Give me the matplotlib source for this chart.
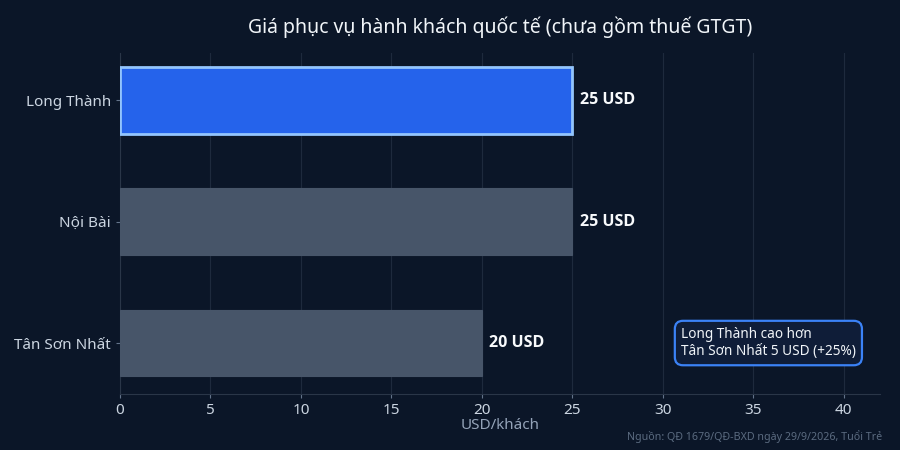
import matplotlib
matplotlib.use("Agg")
import matplotlib.pyplot as plt

categories = ["Long Thành", "Nội Bài", "Tân Sơn Nhất"]
values = [25, 25, 20]
value_labels = ["25 USD", "25 USD", "20 USD"]
xticks = [0, 5, 10, 15, 20, 25, 30, 35, 40]

plt.rcParams['font.family'] = ['Noto Sans', 'DejaVu Sans']

BG = "#0b1628"
fig = plt.figure(figsize=(9, 4.5), dpi=100, facecolor=BG)
ax = fig.add_axes([120/900, 56/450, 760/900, 341/450])
ax.set_facecolor(BG)

colors = ["#2563eb", "#475569", "#475569"]
edges = ["#93c5fd", "#475569", "#475569"]
lws = [2, 0.8, 0.8]
ypos = list(range(len(categories)))
for y, v, c, e, lw in zip(ypos, values, colors, edges, lws):
    ax.barh(y, v, height=0.55, color=c, edgecolor=e, linewidth=lw, zorder=3)

for y, v, lab in zip(ypos, values, value_labels):
    ax.text(v + 0.4, y, lab, va="center", ha="left", color="#f8fafc",
            fontsize=11.5, fontweight="bold", family=["Open Sans", "DejaVu Sans"],
            zorder=4)

ax.set_yticks(ypos)
ax.set_yticklabels(categories)
ax.set_ylim(2.42, -0.39)
ax.set_xlim(0, 42)
ax.set_xticks(xticks)

ax.grid(axis="x", color="#1e2a3d", linewidth=0.8, zorder=0)
for s in ["top", "right"]:
    ax.spines[s].set_visible(False)
for s in ["left", "bottom"]:
    ax.spines[s].set_color("#2a3648")
ax.tick_params(colors="#cbd5e1", labelsize=11, length=3)
ax.tick_params(axis="both", color="#64748b")

ax.set_xlabel("USD/khách", color="#94a3b8", fontsize=11, labelpad=0)

fig.text(500/900, 1 - 27/450, "Giá phục vụ hành khách quốc tế (chưa gồm thuế GTGT)",
         ha="center", va="center", color="#f1f5f9", fontsize=14)

ax.text(31.0, 2, "Long Thành cao hơn\nTân Sơn Nhất 5 USD (+25%)",
        ha="left", va="center", color="#f1f5f9", fontsize=9.8, linespacing=1.2,
        bbox=dict(boxstyle="round,pad=0.45,rounding_size=0.6", facecolor="#0f1d38",
                  edgecolor="#3b82f6", linewidth=1.6), zorder=5)

fig.text(882/900, 1 - 437/450, "Nguồn: QĐ 1679/QĐ-BXD ngày 29/9/2026, Tuổi Trẻ",
         ha="right", va="center", color="#5b6b80", fontsize=7.7)

fig.savefig("out.png", dpi=100, facecolor=BG)
